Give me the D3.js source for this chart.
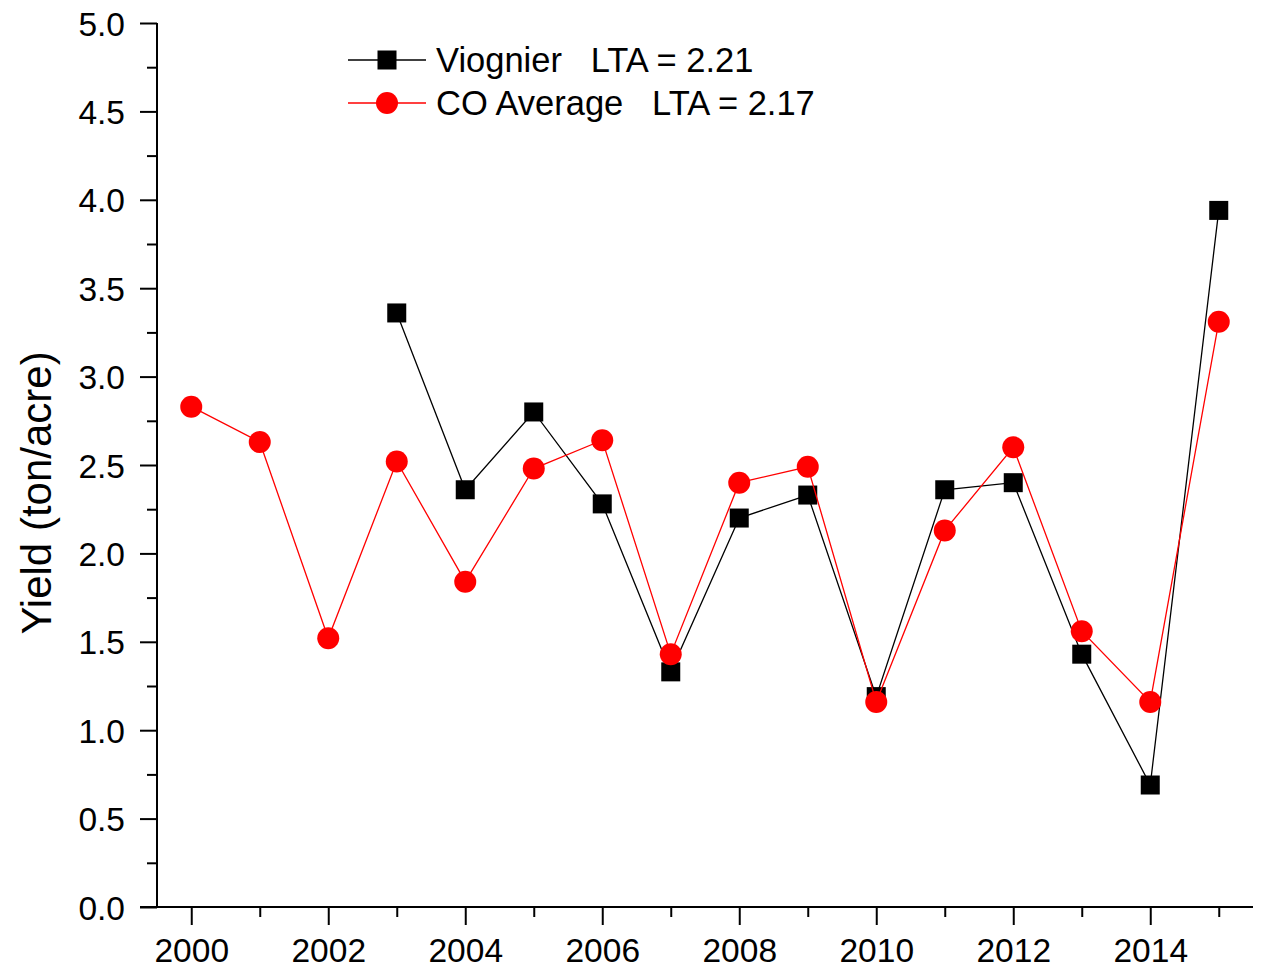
<!DOCTYPE html>
<html>
<head>
<meta charset="utf-8">
<script src="https://cdn.jsdelivr.net/npm/d3@7"></script>
<style>
  body { margin: 0; background: #fff; }
  svg { display: block; font-family: "Liberation Sans", Arial, sans-serif; }
  .axis path, .axis line { stroke: #000; stroke-width: 2px; }
  .axis text { font-size: 33.5px; fill: #000; }
</style>
</head>
<body>
<svg width="1264" height="971"></svg>
<script>
// years and yields
var years = [2000, 2001, 2002, 2003, 2004, 2005, 2006, 2007, 2008, 2009, 2010, 2011, 2012, 2013, 2014, 2015];
var viognierYears = [2003, 2004, 2005, 2006, 2007, 2008, 2009, 2010, 2011, 2012, 2013, 2014, 2015];
var viognier = [3.36, 2.36, 2.80, 2.28, 1.33, 2.20, 2.33, 1.19, 2.36, 2.40, 1.43, 0.69, 3.94];
var coAverage = [2.83, 2.63, 1.52, 2.52, 1.84, 2.48, 2.64, 1.43, 2.40, 2.49, 1.16, 2.13, 2.60, 1.56, 1.16, 3.31];
var legendLabels = ["Viognier   LTA = 2.21", "CO Average   LTA = 2.17"];
var yTicks = [0, 0.5, 1, 1.5, 2, 2.5, 3, 3.5, 4, 4.5, 5];

var svg = d3.select("svg");
var plotLeft = 157, plotRight = 1253, plotTop = 23, plotBottom = 907;

var x = d3.scaleLinear().domain([1999.5, 2015.5]).range([plotLeft, plotRight]);
var y = d3.scaleLinear().domain([0, 5]).range([plotBottom, plotTop]);

// minor ticks first, then major axes on top
svg.append("g").attr("class", "axis")
  .attr("transform", "translate(0," + plotBottom + ")")
  .call(d3.axisBottom(x).tickValues(d3.range(2001, 2016, 2)).tickSize(10).tickFormat(""))
  .select(".domain").remove();
svg.append("g").attr("class", "axis")
  .attr("transform", "translate(" + plotLeft + ",0)")
  .call(d3.axisLeft(y).tickValues(d3.range(0.25, 5, 0.5)).tickSize(10).tickFormat(""))
  .select(".domain").remove();

var xAxis = svg.append("g").attr("class", "axis")
  .attr("transform", "translate(0," + plotBottom + ")")
  .call(d3.axisBottom(x).tickValues(d3.range(2000, 2015, 2)).tickSize(18).tickSizeOuter(0).tickFormat(d3.format("d")).tickPadding(13));
xAxis.select(".domain").attr("d", "M" + (plotLeft - 17) + ",0H" + plotRight);

var yAxis = svg.append("g").attr("class", "axis")
  .attr("transform", "translate(" + plotLeft + ",0)")
  .call(d3.axisLeft(y).tickValues(yTicks).tickSize(17).tickSizeOuter(0).tickFormat(d3.format(".1f")).tickPadding(15));
yAxis.select(".domain").attr("d", "M0," + plotTop + "V" + plotBottom);
yAxis.selectAll(".tick text").attr("dy", "0.36em");

svg.append("text")
  .attr("transform", "translate(51,493) rotate(-90)")
  .attr("text-anchor", "middle")
  .style("font-size", "42px")
  .text("Yield (ton/acre)");

var line = d3.line().x(function(d) { return x(d[0]); }).y(function(d) { return y(d[1]); });
var vData = d3.zip(viognierYears, viognier);
var cData = d3.zip(years, coAverage);

svg.append("path").attr("d", line(vData)).attr("fill", "none").attr("stroke", "#000").attr("stroke-width", 1.3);
svg.selectAll(".sq").data(vData).enter().append("rect")
  .attr("x", function(d) { return x(d[0]) - 9.5; })
  .attr("y", function(d) { return y(d[1]) - 9.5; })
  .attr("width", 19).attr("height", 19).attr("fill", "#000");

svg.append("path").attr("d", line(cData)).attr("fill", "none").attr("stroke", "#f00").attr("stroke-width", 1.3);
svg.selectAll(".ci").data(cData).enter().append("circle")
  .attr("cx", function(d) { return x(d[0]); })
  .attr("cy", function(d) { return y(d[1]); })
  .attr("r", 11).attr("fill", "#f00");

// legend
var legend = svg.append("g").attr("transform", "translate(348,60)");
legendLabels.forEach(function(lbl, i) {
  var g = legend.append("g").attr("transform", "translate(0," + (i * 43) + ")");
  g.append("line").attr("x1", 0).attr("x2", 78).attr("stroke", i ? "#f00" : "#000").attr("stroke-width", 1.3);
  if (i) g.append("circle").attr("cx", 39).attr("r", 11).attr("fill", "#f00");
  else g.append("rect").attr("x", 29.5).attr("y", -9.5).attr("width", 19).attr("height", 19).attr("fill", "#000");
  g.append("text").attr("x", 88).attr("dy", "0.36em")
    .style("font-size", "34.5px").style("white-space", "pre")
    .text(lbl);
});
</script>
</body>
</html>
